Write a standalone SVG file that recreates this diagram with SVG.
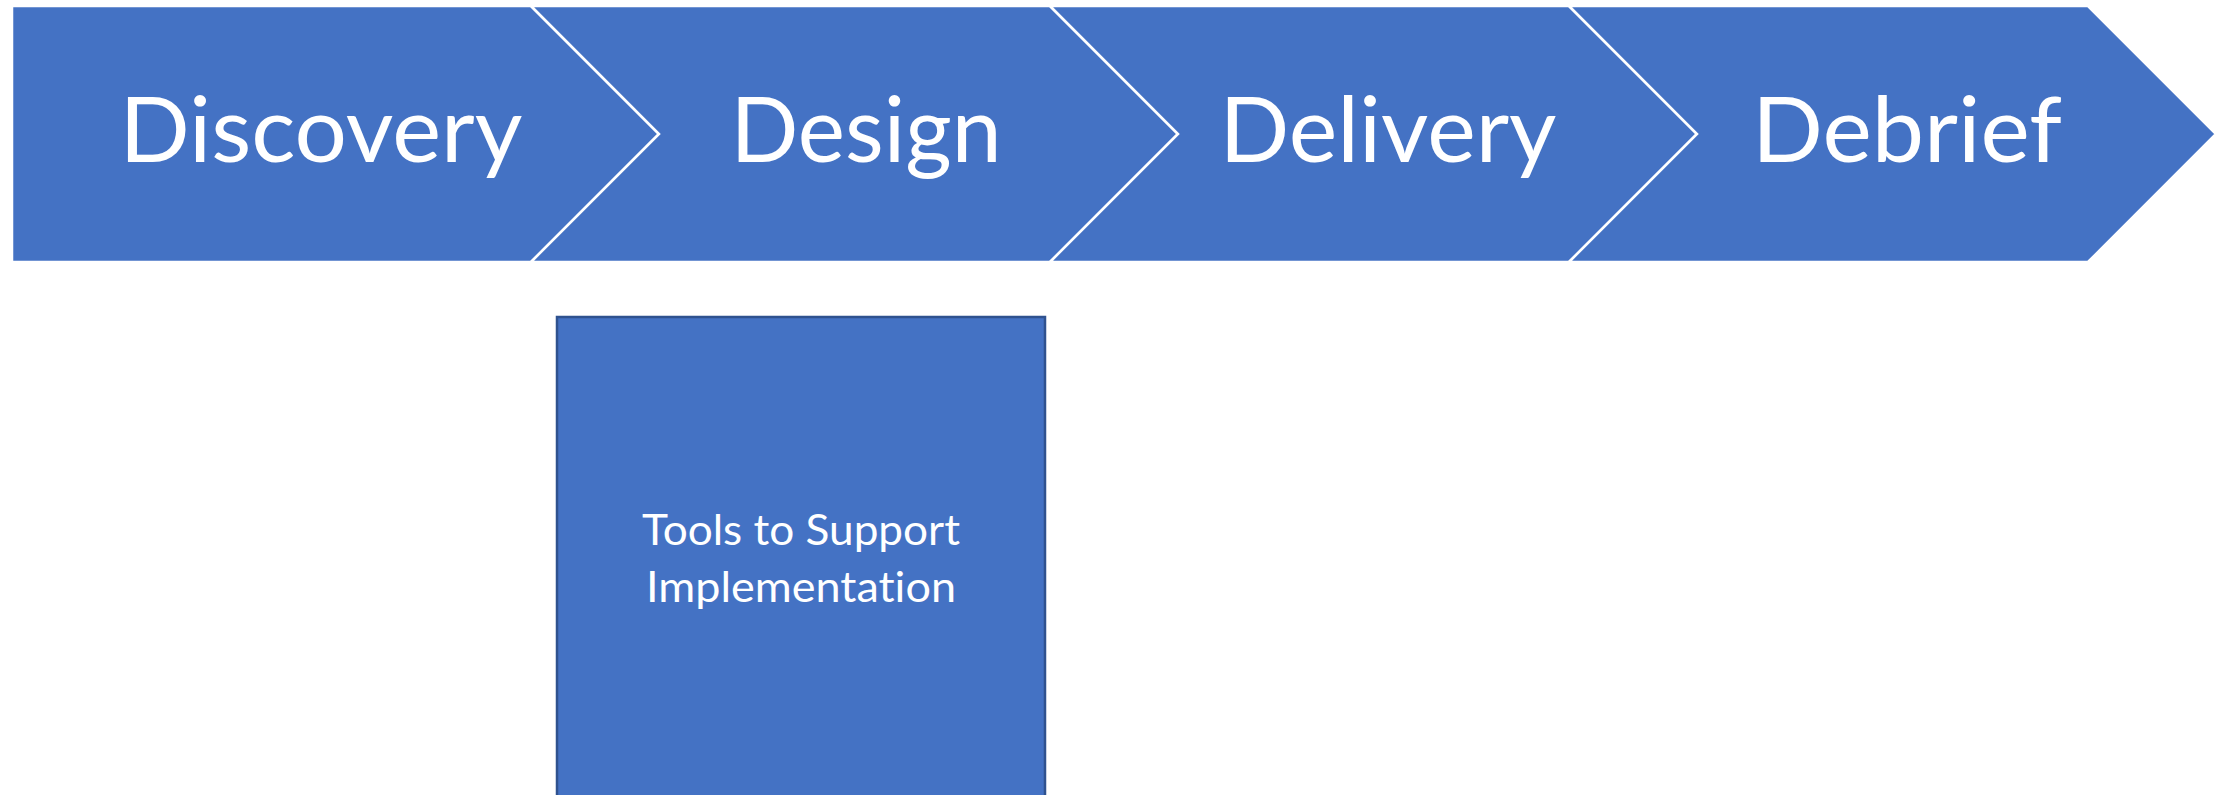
<svg xmlns="http://www.w3.org/2000/svg" width="2234" height="795" viewBox="0 0 2234 795">
<style>
.chev{fill:#4472C4;stroke:#FFFFFF;stroke-width:2.5;stroke-linejoin:miter}
.big{font-family:Lato,"Open Sans","Liberation Sans",sans-serif;font-size:91px;fill:#FFFFFF;text-anchor:middle;font-variant-ligatures:none}
.box{fill:#4472C4;stroke:#2F528F;stroke-width:2.5}
.small{font-family:Lato,"Open Sans","Liberation Sans",sans-serif;font-size:42px;fill:#FFFFFF;text-anchor:middle;font-variant-ligatures:none}
</style>
<rect width="2234" height="795" fill="#FFFFFF"/>
<g id="discovery">
<polygon class="chev" points="12,6 531,6 659,134 531,262 12,262"/>
<text class="big" x="321" y="162" textLength="403" lengthAdjust="spacingAndGlyphs">Discovery</text>
</g>
<g id="design">
<polygon class="chev" points="531,6 1050,6 1178,134 1050,262 531,262 659,134"/>
<text class="big" x="866" y="162" textLength="271" lengthAdjust="spacingAndGlyphs">Design</text>
</g>
<g id="delivery">
<polygon class="chev" points="1050,6 1569,6 1697,134 1569,262 1050,262 1178,134"/>
<text class="big" x="1388" y="162" textLength="337" lengthAdjust="spacingAndGlyphs">Delivery</text>
</g>
<g id="debrief">
<polygon class="chev" points="1569,6 2088,6 2216,134 2088,262 1569,262 1697,134"/>
<text class="big" x="1907" y="162" textLength="310" lengthAdjust="spacingAndGlyphs">Debrief</text>
</g>
<g id="tools">
<rect class="box" x="557" y="317" width="488" height="490"/>
<text class="small" x="801" y="545" textLength="318" lengthAdjust="spacingAndGlyphs">Tools to Support</text>
<text class="small" x="801" y="602" textLength="310" lengthAdjust="spacingAndGlyphs">Implementation</text>
</g>
<g id="connectors"></g>
</svg>
